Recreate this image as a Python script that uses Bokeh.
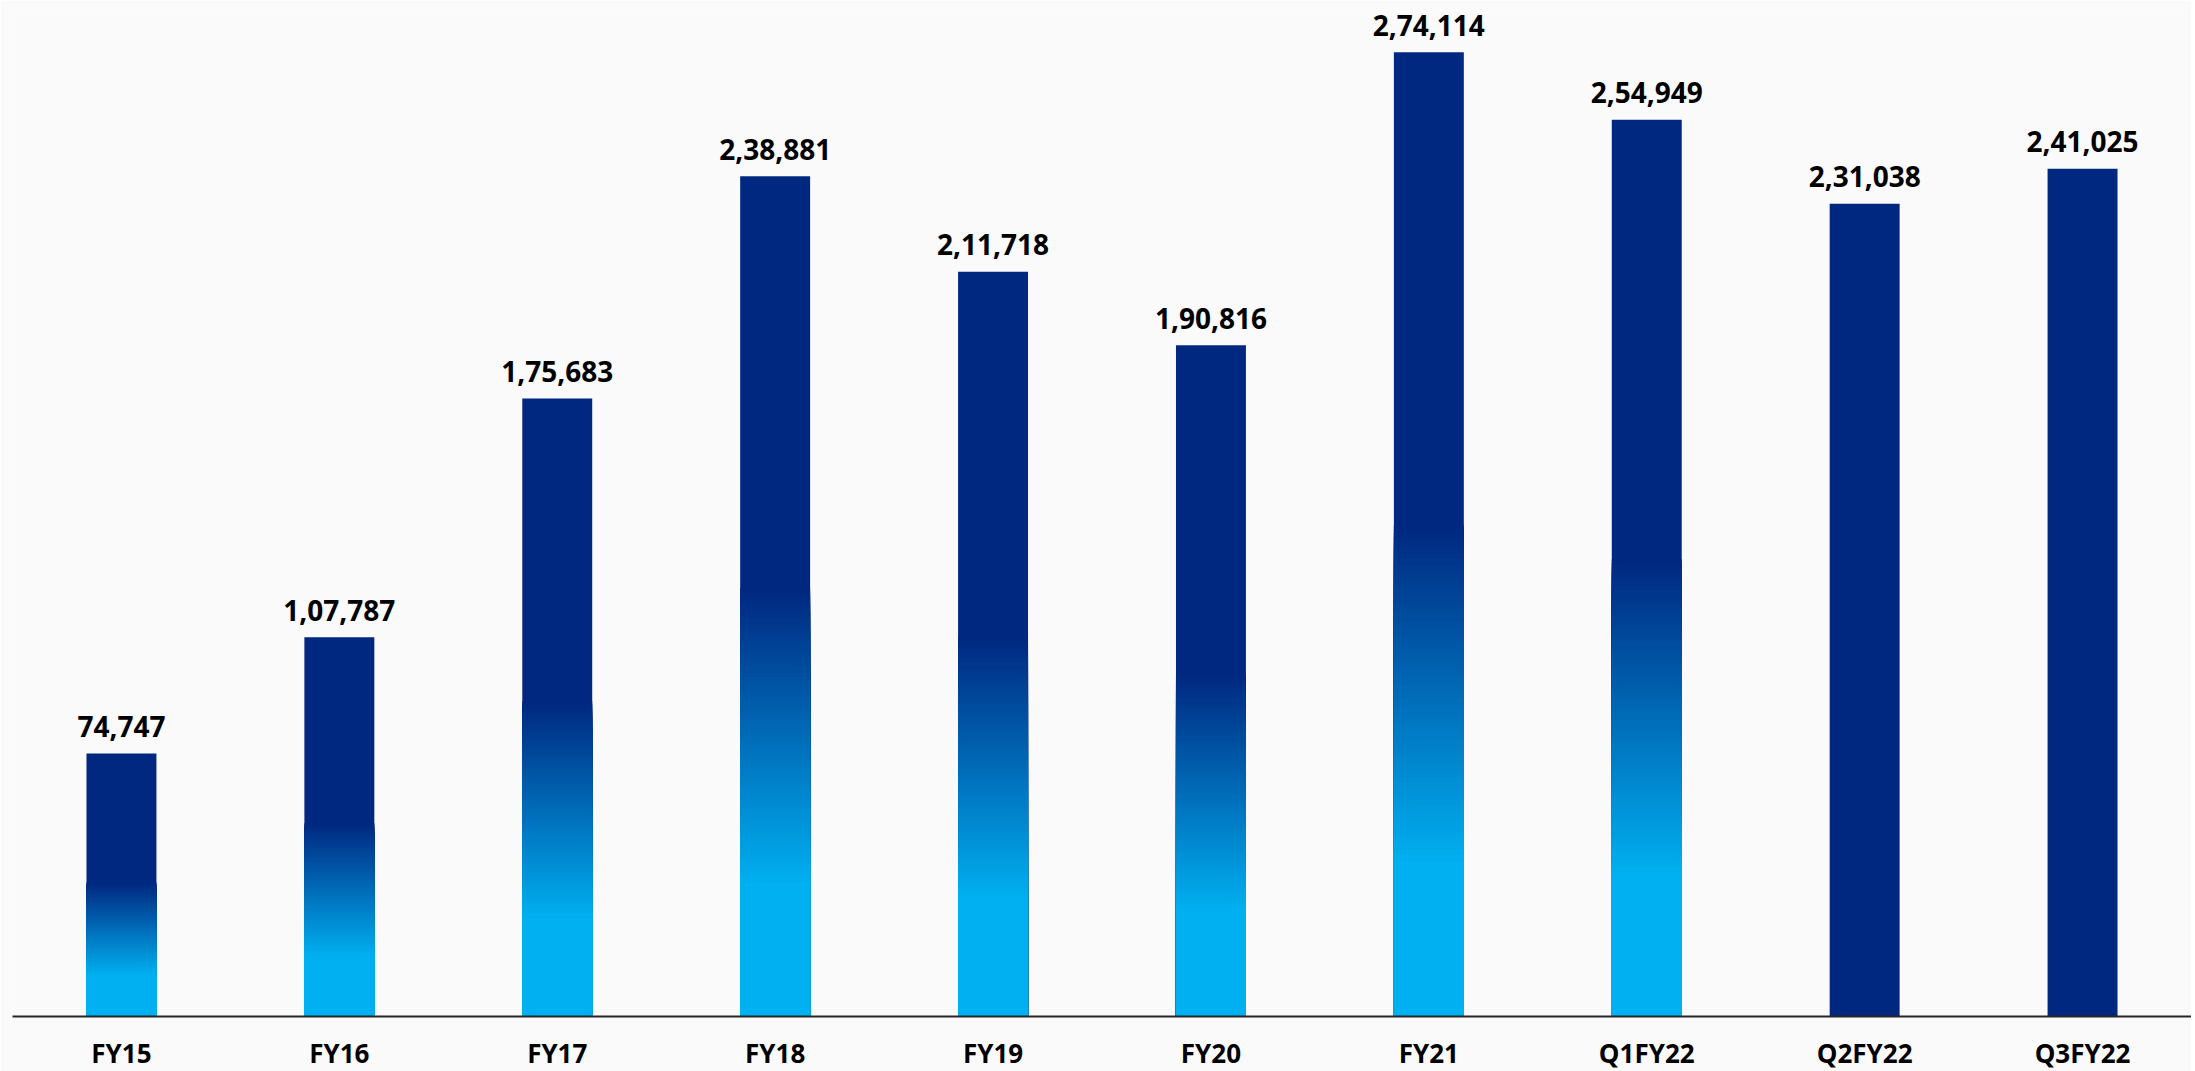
from bokeh.plotting import figure
from bokeh.models import FactorRange, Range1d, ColumnDataSource
from bokeh.core.properties import value
from bokeh.embed import file_html
from bokeh.resources import INLINE

# ---- data ----
categories = ["FY15", "FY16", "FY17", "FY18", "FY19", "FY20", "FY21",
              "Q1FY22", "Q2FY22", "Q3FY22"]
values = [74747, 107787, 175683, 238881, 211718, 190816, 274114,
          254949, 231038, 241025]
gradient_bar = [True, True, True, True, True, True, True, True, False, False]


def indian_format(n):
    s = str(int(n))
    if len(s) <= 3:
        return s
    head, tail = s[:-3], s[-3:]
    parts = []
    while len(head) > 2:
        parts.insert(0, head[-2:])
        head = head[:-2]
    if head:
        parts.insert(0, head)
    return ",".join(parts) + "," + tail


labels = [indian_format(v) for v in values]

# ---- style ----
NAVY = (0, 40, 128)
CYAN = (0, 176, 240)
G_LOW, G_HIGH = 0.16, 0.51   # gradient zone as a fraction of bar height
N_STEPS = 80
BAR_W = 0.321


def hexcol(c):
    return "#%02x%02x%02x" % tuple(int(round(x)) for x in c)


def mix(t):  # t=0 -> cyan, t=1 -> navy
    return hexcol(tuple(CYAN[i] + (NAVY[i] - CYAN[i]) * t for i in range(3)))


p = figure(
    x_range=FactorRange(*categories, range_padding=0),
    y_range=Range1d(0, 286000),
    frame_width=2179, frame_height=1006,
    min_border_left=12, min_border_right=0, min_border_top=10, min_border_bottom=0,
    output_backend="svg", toolbar_location=None,
    background_fill_color="#fafafa", border_fill_color="#fafafa",
)
p.outline_line_color = None
p.grid.visible = False
p.yaxis.visible = False

# full navy bars
src = ColumnDataSource(dict(x=categories, top=values, label=labels))
p.vbar(x="x", top="top", bottom=0, width=BAR_W, source=src,
       fill_color=hexcol(NAVY), line_color=None)

# gradient: layered bars from the top of the gradient zone downward
gx = [c for c, g in zip(categories, gradient_bar) if g]
gv = [v for v, g in zip(values, gradient_bar) if g]
for k in range(N_STEPS, -1, -1):
    t = k / N_STEPS
    frac = G_LOW + (G_HIGH - G_LOW) * t
    p.vbar(x=gx, top=[v * frac for v in gv], bottom=0, width=BAR_W,
           fill_color=mix(t), line_color=None)

# value labels
p.text(x="x", y="top", text="label", source=src,
       text_font=value("Open Sans"), text_font_style="bold",
       text_font_size=value("28px"), text_color="#000000",
       text_align="center", text_baseline="alphabetic", y_offset=-27)

ax = p.xaxis[0]
ax.axis_line_color = "#262626"
ax.axis_line_width = 2
ax.major_tick_line_color = None
ax.minor_tick_line_color = None
ax.major_tick_out = 0
ax.major_label_standoff = 18
ax.major_label_text_font = "Open Sans"
ax.major_label_text_font_style = "bold"
ax.major_label_text_font_size = "26px"
ax.major_label_text_color = "#000000"

open("out.html", "w").write(file_html(p, INLINE))
